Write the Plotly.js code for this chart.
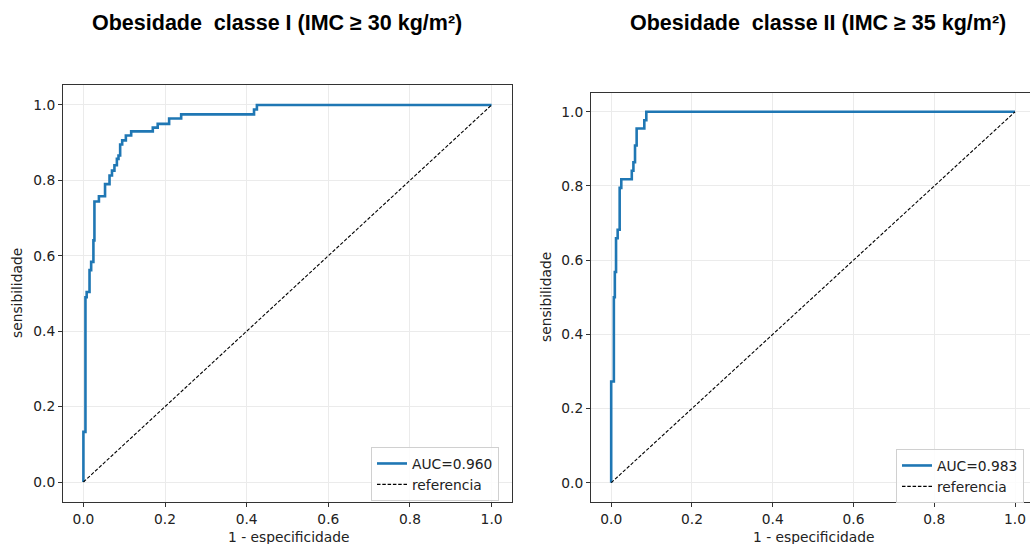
<!DOCTYPE html>
<html>
<head>
<meta charset="utf-8">
<script src="https://cdn.plot.ly/plotly-3.0.1.min.js"></script>
<style>html,body{margin:0;padding:0;background:#fff;}#chart{width:1030px;height:544px;}</style>
</head>
<body>
<div id="chart"></div>
<script>
// Left panel: Obesidade classe I ROC curve (corner points, step 'hv')
const fpr1 = [0, 0, 0.005, 0.008, 0.015, 0.019, 0.0245, 0.027, 0.038, 0.053, 0.064, 0.070, 0.076, 0.082, 0.086, 0.090, 0.095, 0.104, 0.117, 0.170, 0.182, 0.210, 0.2395, 0.418, 0.425, 1.0];
const tpr1 = [0, 0.133, 0.490, 0.504, 0.562, 0.584, 0.641, 0.744, 0.758, 0.790, 0.813, 0.826, 0.840, 0.857, 0.866, 0.895, 0.906, 0.919, 0.930, 0.940, 0.950, 0.964, 0.975, 0.988, 1.0, 1.0];
// Right panel: Obesidade classe II ROC curve
const fpr2 = [0, 0, 0.0066, 0.009, 0.012, 0.016, 0.021, 0.025, 0.051, 0.055, 0.059, 0.063, 0.082, 0.087, 1.0];
const tpr2 = [0, 0.273, 0.500, 0.568, 0.659, 0.682, 0.795, 0.818, 0.841, 0.864, 0.909, 0.955, 0.977, 1.0, 1.0];
const refX = [0, 1];
const refY = [0, 1];
const auc1 = "AUC=0.960";
const auc2 = "AUC=0.983";
const refName = "referencia";
const title1 = "Obesidade\u00a0 classe I (IMC \u2265 30 kg/m\u00b2)";
const title2 = "Obesidade\u00a0 classe II (IMC \u2265 35 kg/m\u00b2)";
const xTitle = "1 - especificidade";
const yTitle = "sensibilidade";
const tickVals = [0, 0.2, 0.4, 0.6, 0.8, 1.0];
const tickText = ["0.0", "0.2", "0.4", "0.6", "0.8", "1.0"];

const W = 1030, H = 544;
const blue = "#1f77b4";
const font = "DejaVu Sans, sans-serif";
const fs = 13.8;

const traces = [
  {x: fpr1, y: tpr1, type: "scatter", mode: "lines", name: auc1, line: {color: blue, width: 2.6, shape: "hv"}, xaxis: "x", yaxis: "y", legend: "legend"},
  {x: refX, y: refY, type: "scatter", mode: "lines", name: refName, line: {color: "#000", width: 1.1, dash: "3.5px,1.8px"}, xaxis: "x", yaxis: "y", legend: "legend"},
  {x: fpr2, y: tpr2, type: "scatter", mode: "lines", name: auc2, line: {color: blue, width: 2.6, shape: "hv"}, xaxis: "x2", yaxis: "y2", legend: "legend2"},
  {x: refX, y: refY, type: "scatter", mode: "lines", name: refName, line: {color: "#000", width: 1.1, dash: "3.5px,1.8px"}, xaxis: "x2", yaxis: "y2", legend: "legend2"}
];

function ax(extra) {
  return Object.assign({
    tickvals: tickVals, ticktext: tickText,
    ticks: "outside", ticklen: 4, tickcolor: "#333", tickwidth: 1,
    showline: true, linecolor: "#333", linewidth: 1,
    showgrid: true, gridcolor: "#ebebeb", gridwidth: 1,
    zeroline: false,
    tickfont: {family: font, size: fs, color: "#222"},
    fixedrange: true
  }, extra);
}

const legendCommon = {
  bgcolor: "rgba(255,255,255,0.85)", bordercolor: "#d0d0d0", borderwidth: 1,
  font: {family: font, size: fs, color: "#222"},
  xanchor: "left", yanchor: "top", tracegroupgap: 0, itemwidth: 30
};

const layout = {
  width: W, height: H,
  margin: {l: 0, r: 0, t: 0, b: 0},
  paper_bgcolor: "#fff", plot_bgcolor: "#fff",
  showlegend: true,
  xaxis: ax({domain: [63 / W, 512 / W], range: [-0.05, 1.05], mirror: true, anchor: "y"}),
  yaxis: ax({domain: [(H - 502) / H, (H - 85) / H], range: [-0.053, 1.053], mirror: true, anchor: "x"}),
  xaxis2: ax({domain: [591 / W, 1], range: [-0.05, 1.037], mirror: true, anchor: "y2"}),
  yaxis2: ax({domain: [(H - 502) / H, (H - 92.5) / H], range: [-0.052, 1.052], mirror: false, anchor: "x2"}),
  legend: Object.assign({x: 371 / W, y: (H - 447) / H}, legendCommon),
  legend2: Object.assign({x: 896 / W, y: (H - 449) / H}, legendCommon),
  annotations: [
    {text: "<b>" + title1 + "</b>", xref: "paper", yref: "paper", x: 277 / W, y: 1 - 23 / H, xanchor: "center", yanchor: "middle", showarrow: false, font: {family: "Liberation Sans, Arial, sans-serif", size: 21.5, color: "#000"}},
    {text: "<b>" + title2 + "</b>", xref: "paper", yref: "paper", x: 818 / W, y: 1 - 23 / H, xanchor: "center", yanchor: "middle", showarrow: false, font: {family: "Liberation Sans, Arial, sans-serif", size: 21.5, color: "#000"}},
    {text: xTitle, xref: "paper", yref: "paper", x: 288 / W, y: 1 - 537 / H, xanchor: "center", yanchor: "middle", showarrow: false, font: {family: font, size: fs, color: "#222"}},
    {text: xTitle, xref: "paper", yref: "paper", x: 813 / W, y: 1 - 537 / H, xanchor: "center", yanchor: "middle", showarrow: false, font: {family: font, size: fs, color: "#222"}},
    {text: yTitle, xref: "paper", yref: "paper", x: 17 / W, y: 1 - 293 / H, xanchor: "center", yanchor: "middle", textangle: -90, showarrow: false, font: {family: font, size: fs, color: "#222"}},
    {text: yTitle, xref: "paper", yref: "paper", x: 546 / W, y: 1 - 297 / H, xanchor: "center", yanchor: "middle", textangle: -90, showarrow: false, font: {family: font, size: fs, color: "#222"}}
  ]
};

Plotly.newPlot("chart", traces, layout, {displayModeBar: false, staticPlot: true});
</script>
</body>
</html>
